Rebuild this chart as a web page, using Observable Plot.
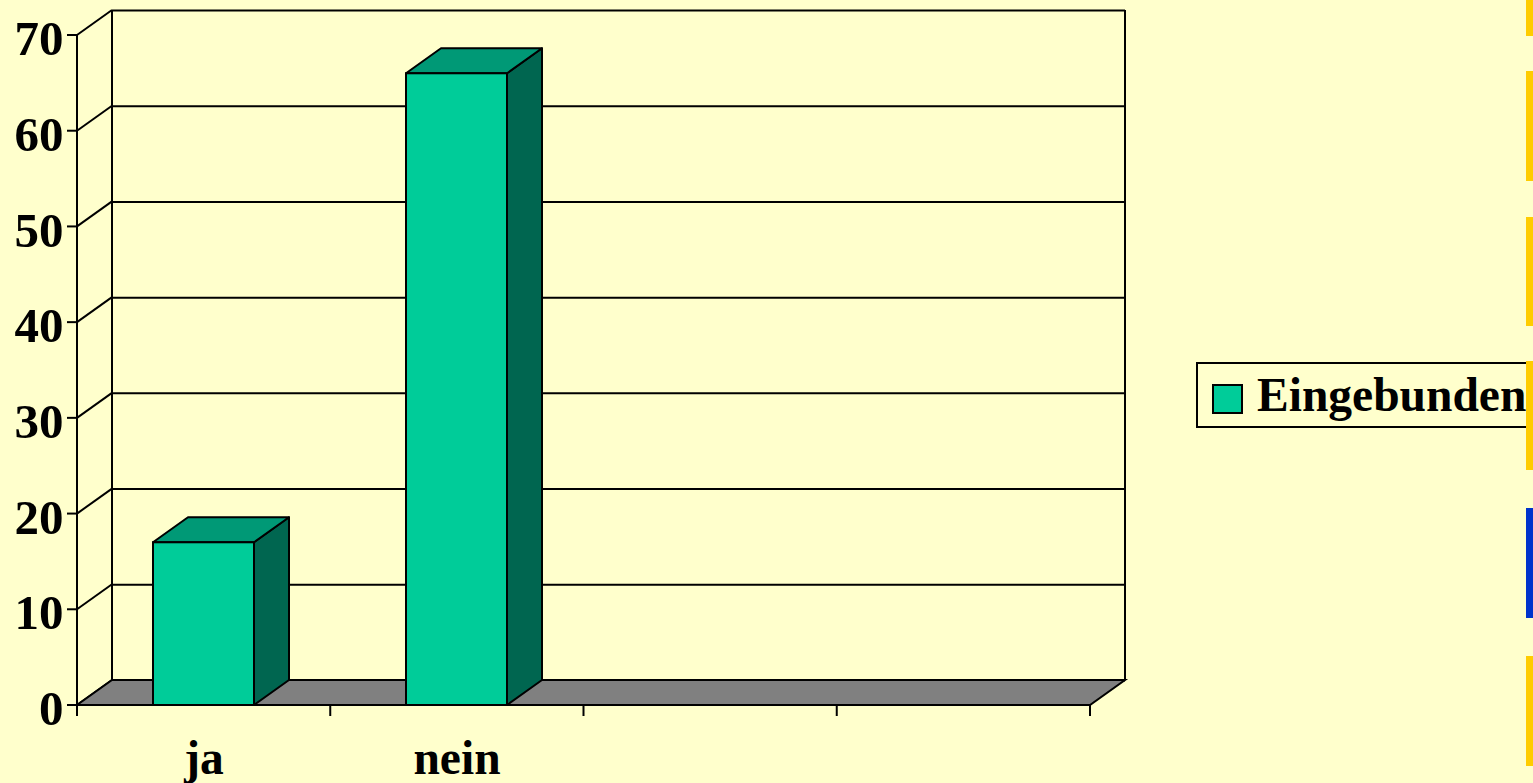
<!DOCTYPE html>
<html><head><meta charset="utf-8">
<script src="https://cdn.jsdelivr.net/npm/d3@7"></script>
<script src="https://cdn.jsdelivr.net/npm/@observablehq/plot@0.6"></script>
<style>
html,body{margin:0;padding:0;background:#FFFFCC;overflow:hidden;width:1533px;height:783px;}
#chart{position:absolute;left:0;top:0;}
#legend{position:absolute;left:1196px;top:362px;width:380px;height:66px;border:2px solid #000;box-sizing:border-box;font:bold 47.5px "Liberation Serif","Times New Roman",serif;white-space:nowrap;}
#legend .sw{position:absolute;left:14px;top:20px;width:31px;height:30px;background:#00CC99;border:2px solid #000;box-sizing:border-box;}
#legend .lb{position:absolute;left:59px;top:5px;line-height:52px;}
.strip{position:absolute;left:1526px;width:7px;}
</style>
</head><body>
<div id="chart"></div>
<div id="legend"><div class="sw"></div><div class="lb"></div></div>
<div id="strips"></div>
<script>
// ---- data ----
const categories = ["ja", "nein"];
const values = [17, 66];
const slots = ["ja", "nein", "slot3", "slot4"];   // two empty category slots
const yTicks = [0, 10, 20, 30, 40, 50, 60, 70];
const seriesName = "Eingebunden";
const stripColors = ["#FFCC00", "#FFCC00", "#FFCC00", "#FFCC00", "#0033CC", "#FFCC00"];

// ---- styling / layout ----
const DX = 35, DY = -25;          // 3D depth offset (pixels)
const FRONT = "#00CC99", TOP = "#009976", SIDE = "#006650", FLOOR = "#808080";
const SW = 2;

const data = categories.map((c, i) => ({cat: c, value: values[i]}));

function scaffold(index, scales, vals, dim) {
  const x = scales.x, y = scales.y;
  const x0 = dim.marginLeft, x1 = dim.width - dim.marginRight;
  const yb = y(0), yt = y(d3.max(yTicks));
  const g = d3.create("svg:g").attr("stroke", "#000").attr("stroke-width", SW).attr("fill", "none");
  // back wall edges
  g.append("line").attr("x1", x0 + DX).attr("x2", x0 + DX).attr("y1", yb + DY).attr("y2", yt + DY);
  g.append("line").attr("x1", x1 + DX).attr("x2", x1 + DX).attr("y1", yb + DY).attr("y2", yt + DY);
  // side-wall diagonals and value-axis tick marks
  for (const t of yTicks) {
    g.append("line").attr("x1", x0).attr("y1", y(t)).attr("x2", x0 + DX).attr("y2", y(t) + DY);
    g.append("line").attr("x1", x0 - 10).attr("y1", y(t)).attr("x2", x0).attr("y2", y(t));
  }
  // floor
  g.append("polygon")
    .attr("points", [[x0, yb], [x1, yb], [x1 + DX, yb + DY], [x0 + DX, yb + DY]].map(p => p.join(",")).join(" "))
    .attr("fill", FLOOR);
  // front value axis line
  g.append("line").attr("x1", x0).attr("x2", x0).attr("y1", yt).attr("y2", yb);
  // category boundary ticks
  const n = slots.length;
  for (let i = 0; i <= n; i++) {
    const xx = x0 + i * (x1 - x0) / n;
    g.append("line").attr("x1", xx).attr("x2", xx).attr("y1", yb).attr("y2", yb + 11);
  }
  return g.node();
}

function bars3d(index, scales, vals, dim) {
  const x = scales.x, y = scales.y;
  const bw = x.bandwidth ? x.bandwidth() : scales.scales.x.bandwidth;
  const g = d3.create("svg:g").attr("stroke", "#000").attr("stroke-width", SW).attr("stroke-linejoin", "round");
  for (const d of data) {
    const l = x(d.cat), r = l + bw, top = y(d.value), base = y(0);
    g.append("polygon").attr("fill", SIDE)
      .attr("points", [[r, base], [r + DX, base + DY], [r + DX, top + DY], [r, top]].map(p => p.join(",")).join(" "));
    g.append("polygon").attr("fill", TOP)
      .attr("points", [[l, top], [r, top], [r + DX, top + DY], [l + DX, top + DY]].map(p => p.join(",")).join(" "));
  }
  return g.node();
}

const plot = Plot.plot({
  width: 1150, height: 783,
  marginLeft: 77, marginRight: 60, marginTop: 35, marginBottom: 78,
  style: {background: "transparent", fontFamily: "'Liberation Serif', 'Times New Roman', serif", fontWeight: "bold", fontSize: "47px", color: "#000", overflow: "visible"},
  x: {domain: slots, paddingInner: 0.6, paddingOuter: 0.3, align: 0.5},
  y: {domain: [0, 70]},
  marks: [
    Plot.ruleY(yTicks, {dx: DX, dy: DY, stroke: "#000", strokeWidth: SW}),
    scaffold,
    bars3d,
    Plot.barY(data, {x: "cat", y: "value", fill: FRONT, stroke: "#000", strokeWidth: SW, inset: 0}),
    Plot.axisY({ticks: yTicks, tickSize: 0, tickPadding: 14, dy: 4, fontSize: 49, fontWeight: "bold", label: null}),
    Plot.axisX({tickSize: 0, tickPadding: 35, fontSize: 47.5, fontWeight: "bold", label: null,
      tickFormat: d => categories.includes(d) ? d : ""})
  ]
});
document.getElementById("chart").appendChild(plot);
document.querySelector("#legend .lb").textContent = seriesName;

// decorative slide strips on the right edge
const stripSpans = [[0, 36], [71, 181], [217, 326], [361, 470], [508, 618], [656, 766]];
const sc = document.getElementById("strips");
stripSpans.forEach((s, i) => {
  const e = document.createElement("div");
  e.className = "strip";
  e.style.top = s[0] + "px"; e.style.height = (s[1] - s[0]) + "px"; e.style.background = stripColors[i];
  sc.appendChild(e);
});
</script>
</body></html>
